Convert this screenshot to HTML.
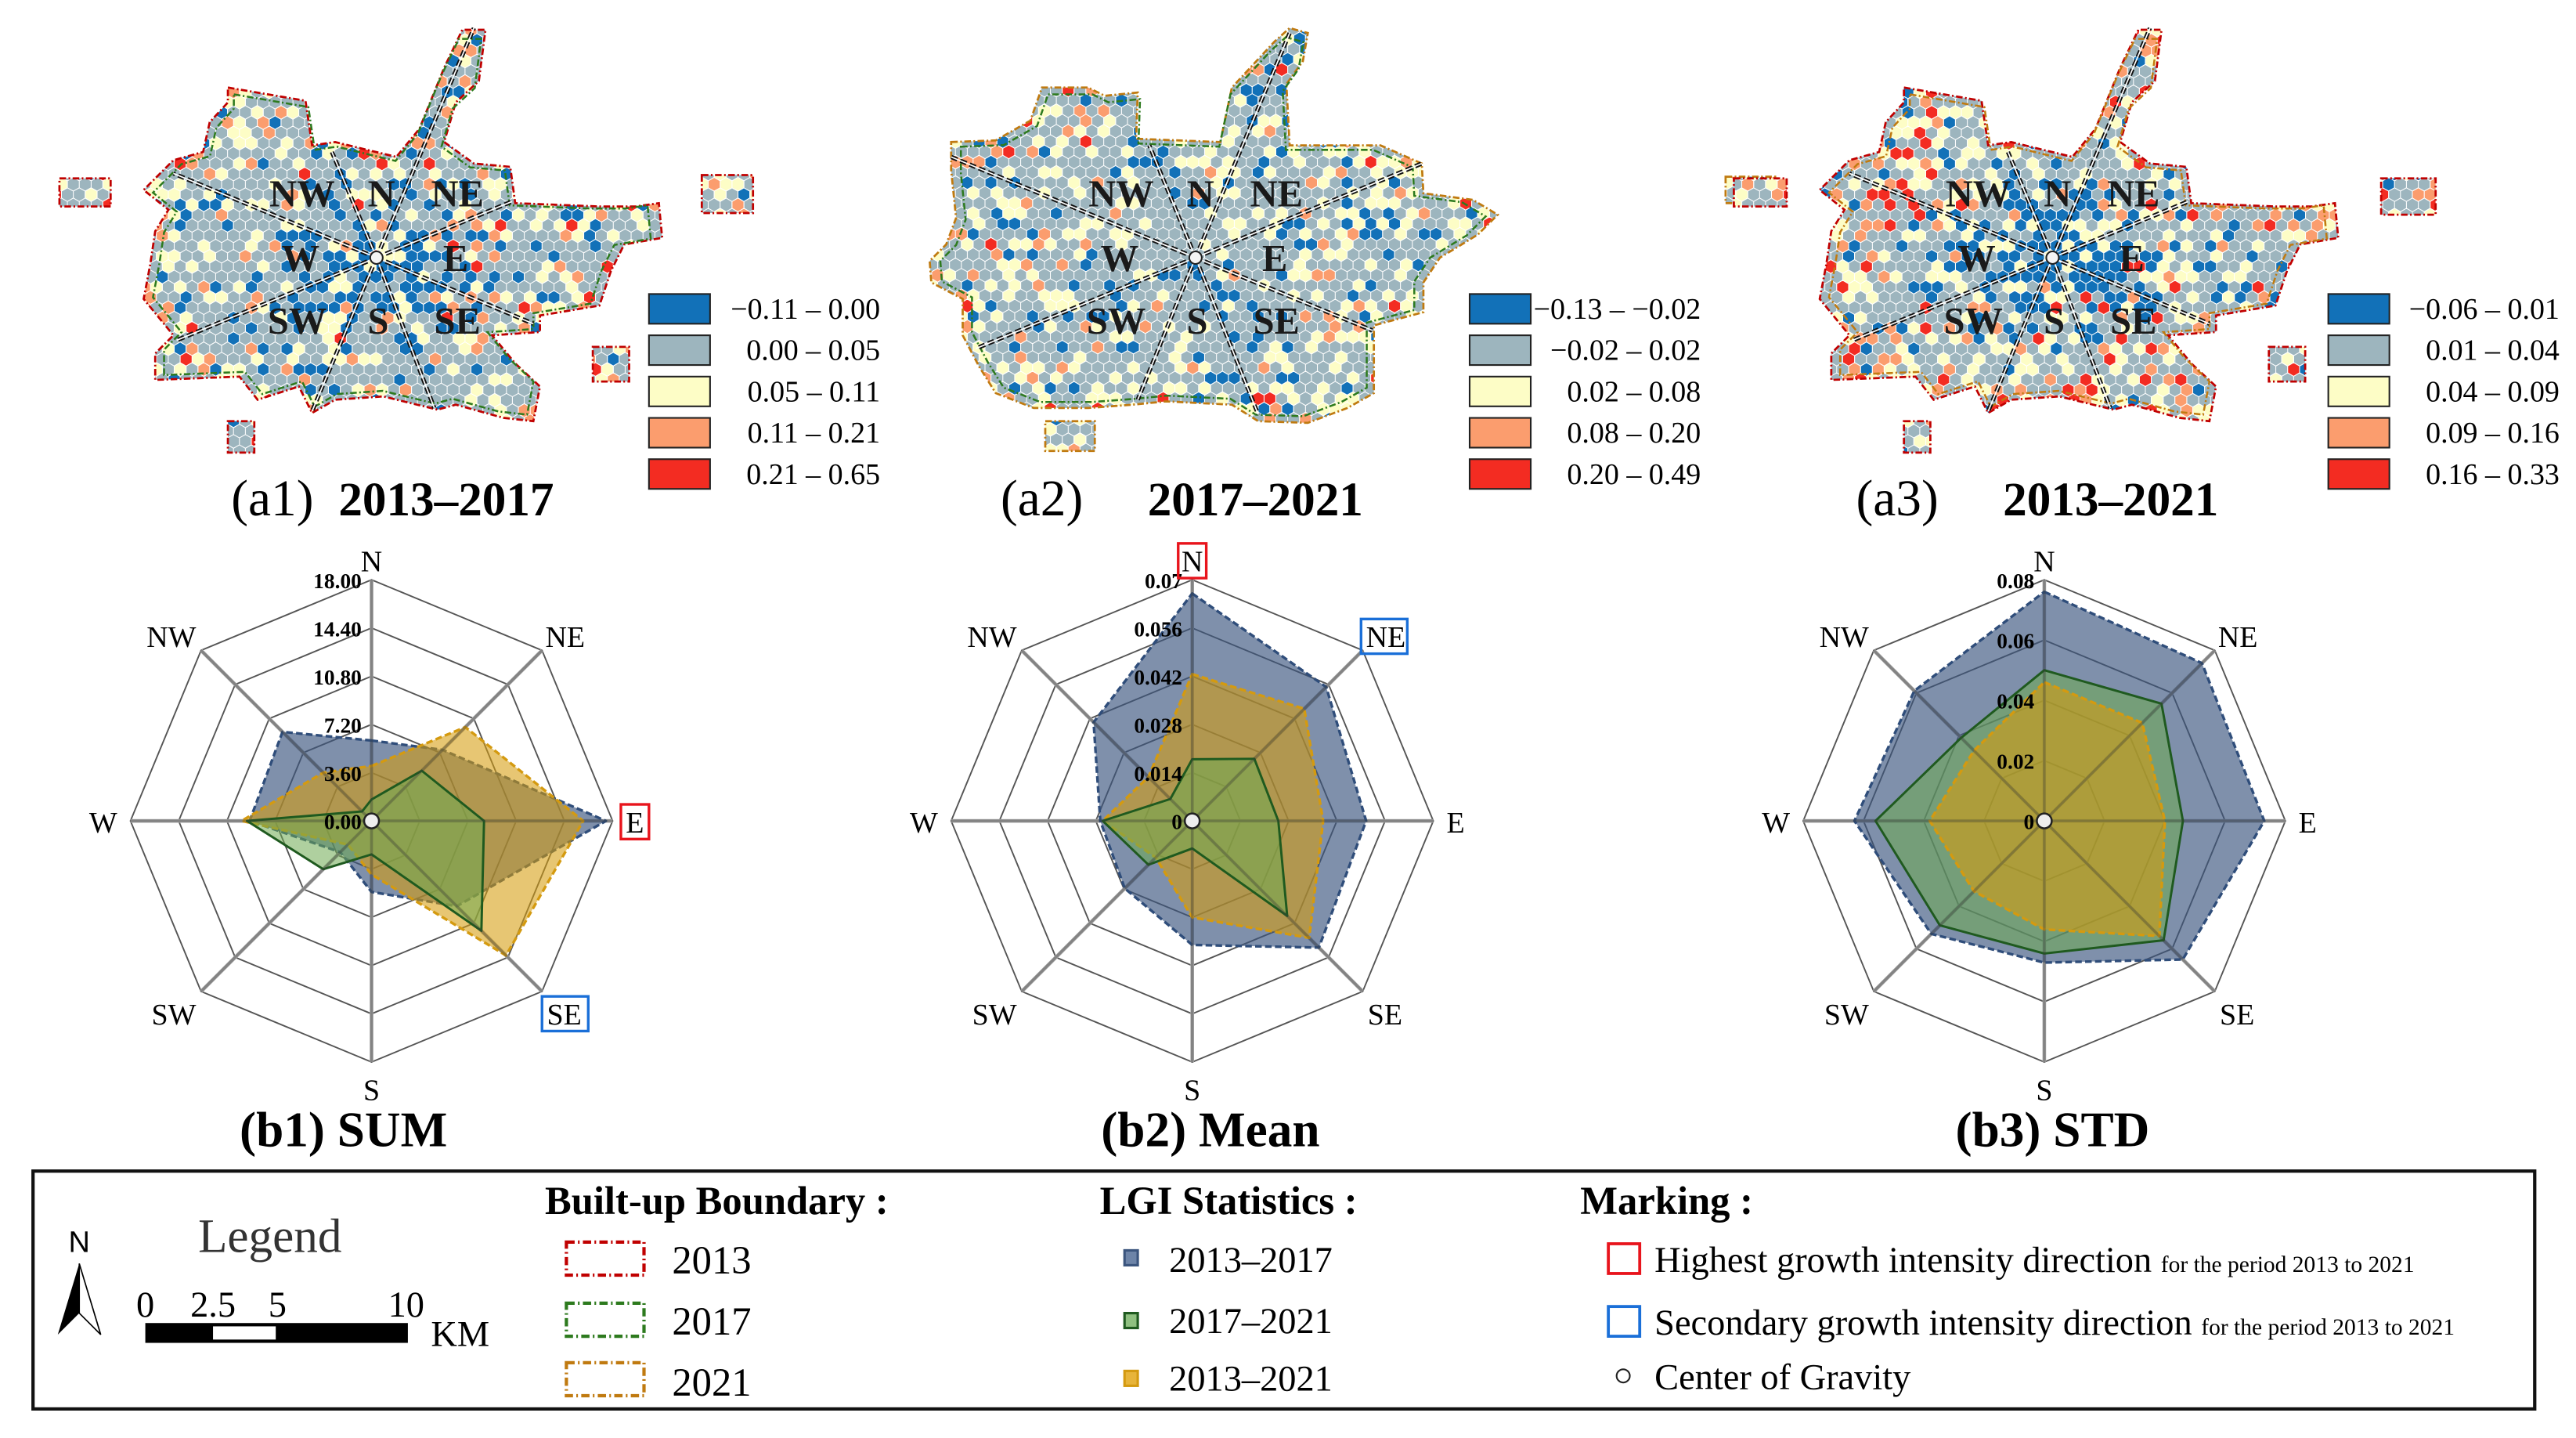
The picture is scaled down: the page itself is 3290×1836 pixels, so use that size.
<!DOCTYPE html>
<html><head><meta charset="utf-8">
<style>
html,body{margin:0;padding:0;background:#fff;}
svg{display:block;font-family:"Liberation Serif",serif;}
</style></head>
<body>
<svg id="fig" xmlns="http://www.w3.org/2000/svg" width="3290" height="1836" viewBox="0 0 1560 870.6" preserveAspectRatio="none">
<rect x="0" y="0" width="1560" height="871" fill="#fff"/>
<defs id="defs"></defs>
<g id="maps"></g>
<g id="radars"></g>

<!-- map titles -->
<text x="140" y="312" font-size="31">(a1)</text>
<text x="205" y="312" font-size="29" font-weight="bold">2013–2017</text>
<text x="606" y="312" font-size="31">(a2)</text>
<text x="695" y="312" font-size="29" font-weight="bold">2017–2021</text>
<text x="1124" y="312" font-size="31">(a3)</text>
<text x="1213" y="312" font-size="29" font-weight="bold">2013–2021</text>

<text x="208" y="694" font-size="30" font-weight="bold" text-anchor="middle">(b1) SUM</text>
<text x="733" y="694" font-size="30" font-weight="bold" text-anchor="middle">(b2) Mean</text>
<text x="1243" y="694" font-size="30" font-weight="bold" text-anchor="middle">(b3) STD</text>

<!-- bottom legend -->
<g>
<rect x="20" y="709" width="1515" height="144" fill="#fff" stroke="#111" stroke-width="2"/>
<text x="48" y="758" font-size="18" font-family="Liberation Sans, sans-serif" text-anchor="middle">N</text>
<polygon points="48,765 35,808 48,795" fill="#000"/>
<polygon points="48,765 61,808 48,795" fill="#fff" stroke="#000" stroke-width="0.8"/>
<text x="120" y="758" font-size="29" fill="#333">Legend</text>
<rect x="88" y="801" width="159" height="12" fill="#000"/>
<rect x="129" y="803" width="38" height="8" fill="#fff"/>
<text x="88" y="797" font-size="22" text-anchor="middle">0</text>
<text x="129" y="797" font-size="22" text-anchor="middle">2.5</text>
<text x="168" y="797" font-size="22" text-anchor="middle">5</text>
<text x="246" y="797" font-size="22" text-anchor="middle">10</text>
<text x="261" y="815" font-size="22">KM</text>

<text x="330" y="735" font-size="24" font-weight="bold">Built-up Boundary :</text>
<rect x="343" y="752" width="47" height="20" fill="none" stroke="#c00000" stroke-width="2" stroke-dasharray="5,2,1,2"/>
<text x="407" y="771" font-size="24">2013</text>
<rect x="343" y="789" width="47" height="20" fill="none" stroke="#2d7a1e" stroke-width="2" stroke-dasharray="5,2,1,2"/>
<text x="407" y="808" font-size="24">2017</text>
<rect x="343" y="825" width="47" height="20" fill="none" stroke="#c07a10" stroke-width="2" stroke-dasharray="5,2,1,2"/>
<text x="407" y="845" font-size="24">2021</text>

<text x="666" y="735" font-size="24" font-weight="bold">LGI Statistics :</text>
<rect x="681" y="757" width="8" height="9" fill="#6d84a8" stroke="#3b557e" stroke-width="1.5"/>
<text x="708" y="770" font-size="22">2013–2017</text>
<rect x="681" y="795" width="8" height="9" fill="#8fc080" stroke="#1f5a1f" stroke-width="1.5"/>
<text x="708" y="807" font-size="22">2017–2021</text>
<rect x="681" y="830" width="8" height="9" fill="#e7b43a" stroke="#d49a10" stroke-width="1.5"/>
<text x="708" y="842" font-size="22">2013–2021</text>

<text x="957" y="735" font-size="24" font-weight="bold">Marking :</text>
<rect x="974" y="753" width="19" height="18" fill="none" stroke="#e8141c" stroke-width="1.8"/>
<text x="1002" y="770" font-size="22">Highest growth intensity direction <tspan font-size="14">for the period 2013 to 2021</tspan></text>
<rect x="974" y="791" width="19" height="18" fill="none" stroke="#1a6fd8" stroke-width="1.8"/>
<text x="1002" y="808" font-size="22">Secondary growth intensity direction <tspan font-size="14">for the period 2013 to 2021</tspan></text>
<circle cx="983" cy="833" r="4" fill="#fff" stroke="#222" stroke-width="1"/>
<text x="1002" y="841" font-size="22">Center of Gravity</text>
</g>
</svg>

<script>
// ===== Radar chart data =====
const directions = ['N','NE','E','SE','S','SW','W','NW'];
const sumTicks = ['0.00','3.60','7.20','10.80','14.40','18.00'];
const sum2013to2017 = [6.0,7.5,17.5,9.0,5.3,3.3,9.1,9.4];
const sum2017to2021 = [1.6,5.3,8.4,11.6,2.5,5.1,9.3,1.0];
const sum2013to2021 = [4.1,9.9,15.8,14.2,4.0,2.5,9.7,5.1];
const meanTicks = ['0','0.014','0.028','0.042','0.056','0.07'];
const mean2013to2017 = [0.066,0.055,0.0505,0.052,0.036,0.0277,0.0267,0.0405];
const mean2017to2021 = [0.0179,0.0255,0.025,0.039,0.008,0.018,0.026,0.009];
const mean2013to2021 = [0.0426,0.046,0.038,0.048,0.028,0.015,0.026,0.018];
const stdTicks = ['0','0.02','0.04','0.06','0.08'];
const std2013to2017 = [0.076,0.074,0.073,0.065,0.047,0.053,0.063,0.061];
const std2017to2021 = [0.050,0.055,0.046,0.056,0.044,0.049,0.056,0.039];
const std2013to2021 = [0.046,0.046,0.040,0.054,0.036,0.033,0.038,0.033];

const NS='http://www.w3.org/2000/svg';
function mk(tag, attrs, parent){
  const e=document.createElementNS(NS,tag);
  for(const k in attrs) e.setAttribute(k,attrs[k]);
  parent.appendChild(e);
  return e;
}
const radarsG=document.getElementById('radars');
const mapsG=document.getElementById('maps');
const defs=document.getElementById('defs');

const styles={
  s1:{fill:'rgba(59,85,126,0.65)',stroke:'#2f4d7a',dash:'4,2',w:1.6},
  s2:{fill:'rgba(110,170,80,0.55)',stroke:'#1f5a1f',dash:'',w:1.4},
  s3:{fill:'rgba(213,157,13,0.58)',stroke:'#d49a10',dash:'4,2',w:1.6}
};

function radar(id,cx,cy,R,ticks,series,order,marks){
  const g=mk('g',{},radarsG);
  
  
  const n=ticks.length-1;
  const maxV=parseFloat(ticks[n]);
  const ang=i=>i*Math.PI/4;
  const pt=(i,r)=>[cx+r*Math.sin(ang(i)), cy-r*Math.cos(ang(i))];
  const scale=v=>v/maxV*R;
  for(let k=1;k<=n;k++){
    const r=R*k/n;
    const p=directions.map((d,i)=>pt(i,r).join(',')).join(' ');
    const ring=mk('polygon',{points:p,fill:'none',stroke:'#555',"stroke-width":0.9},g);
    
    
  }
  directions.forEach((d,i)=>{
    const [x,y]=pt(i,R);
    const sp=mk('line',{x1:cx,y1:cy,x2:x,y2:y,stroke:'#aaa',"stroke-width":2.2},g);
    
    
  });
  order.forEach(key=>{
    const vals=series[key];
    const st=styles[key];
    const p=vals.map((v,i)=>pt(i,scale(v)).join(',')).join(' ');
    const poly=mk('polygon',{points:p,fill:st.fill,stroke:st.stroke,"stroke-width":st.w,"stroke-dasharray":st.dash,"stroke-linejoin":"round"},g);
    
    
  });
  directions.forEach((d,i)=>{
    const [x,y]=pt(i,R);
    mk('line',{x1:cx,y1:cy,x2:x,y2:y,stroke:'rgba(60,60,60,0.35)',"stroke-width":1.6},g);
  });
  ticks.forEach((t,k)=>{
    const r=R*k/n;
    const tl=mk('text',{x:cx-6,y:cy-r+5,"font-size":13,"font-weight":"bold","text-anchor":"end"},g);
    tl.textContent=t;
    
    
  });
  directions.forEach((d,i)=>{
    const [x,y]=pt(i,R);
    let tx=x,ty=y,anc='middle';
    if(d==='N'){ty=y-5;}
    else if(d==='S'){ty=y+23;}
    else if(d==='E'){tx=x+8;ty=y+7;anc='start';}
    else if(d==='W'){tx=x-8;ty=y+7;anc='end';}
    else if(d==='NE'){tx=x+2;ty=y-2;anc='start';}
    else if(d==='NW'){tx=x-3;ty=y-2;anc='end';}
    else if(d==='SE'){tx=x+3;ty=y+20;anc='start';}
    else if(d==='SW'){tx=x-3;ty=y+20;anc='end';}
    const lab=mk('text',{x:tx,y:ty,"font-size":18,"text-anchor":anc},g);
    lab.textContent=d;
    
    
    if(marks[d]){
      const w=d.length>1?28:17;
      let bx=anc==='start'?tx-3:(anc==='end'?tx-w+3:tx-w/2);
      const b=mk('rect',{x:bx,y:ty-17,width:w,height:21,fill:'none',stroke:marks[d],"stroke-width":1.6},g);
      
      
    }
  });
  const c=mk('circle',{cx:cx,cy:cy,r:4.5,fill:'#eee',stroke:'#222',"stroke-width":1.2},g);
  
  
}
radar('radar-sum',225,497,146,sumTicks,{s1:sum2013to2017,s2:sum2017to2021,s3:sum2013to2021},['s1','s3','s2'],{E:'#e8141c',SE:'#1a6fd8'});
radar('radar-mean',722,497,146,meanTicks,{s1:mean2013to2017,s2:mean2017to2021,s3:mean2013to2021},['s1','s3','s2'],{N:'#e8141c',NE:'#1a6fd8'});
radar('radar-std',1238,497,146,stdTicks,{s1:std2013to2017,s2:std2017to2021,s3:std2013to2021},['s1','s2','s3'],{});

// ===== Maps (pattern illustration) =====
const shapeA1=[[138,53],[185,61],[189,88],[203,86],[240,95],[254,78],[269,41],[280,18],[294,18],[290,49],[276,62],[269,86],[287,99],[309,101],[312,123],[363,125],[385,125],[399,123],[401,144],[378,148],[370,164],[363,185],[327,191],[327,201],[298,203],[312,220],[327,234],[323,255],[305,253],[276,245],[265,248],[232,240],[203,242],[189,250],[181,234],[156,242],[145,228],[94,230],[94,214],[105,203],[87,181],[91,160],[94,140],[102,127],[87,115],[105,97],[123,92],[127,74],[138,62]];
const islandsA1=[[[36,108],[67,108],[67,125],[36,125]],[[425,106],[456,106],[456,129],[425,129]],[[138,255],[154,255],[154,274],[138,274]],[[359,210],[381,210],[381,231],[359,231]]];
const raysA1=[[105,105],[201,92],[287,17],[310,122],[323,196],[263,247],[189,249],[107,206]];
const shapeA2=[[576,86],[603,85],[624,73],[631,53],[659,53],[669,58],[689,56],[688,84],[739,86],[746,53],[772,25],[781,17],[792,20],[789,37],[779,51],[781,88],[836,88],[861,99],[862,117],[892,121],[907,130],[895,142],[872,156],[862,171],[862,189],[832,197],[832,238],[816,247],[792,256],[762,255],[746,245],[706,243],[686,245],[659,247],[626,247],[603,238],[593,222],[583,203],[583,181],[564,171],[563,158],[573,148],[579,132],[576,103]];
const islandsA2=[[[1045,107],[1075,107],[1075,123],[1045,123]],[[633,255],[663,255],[663,273],[633,273]]];
const raysA2=[[576,95],[696,88],[781,20],[861,99],[831,200],[762,251],[689,242],[591,211]];

function shift(pts,dx){return pts.map(p=>[p[0]+dx,p[1]]);}
const maps=[
 {id:'a1',cx:228,cy:156,shape:shapeA1,islands:islandsA1,rays:raysA1,type:1,legX:393,
  labels:['−0.11 – 0.00','0.00 – 0.05','0.05 – 0.11','0.11 – 0.21','0.21 – 0.65'],bcol:['#c00000','#2d7a1e']},
 {id:'a2',cx:724,cy:156,shape:shapeA2,islands:islandsA2,rays:raysA2,type:2,legX:890,
  labels:['−0.13 – −0.02','−0.02 – 0.02','0.02 – 0.08','0.08 – 0.20','0.20 – 0.49'],bcol:['#c07a10','#2d7a1e']},
 {id:'a3',cx:1243,cy:156,shape:shift(shapeA1,1015),islands:[[[1050,108],[1082,108],[1082,125],[1050,125]],[[1442,108],[1475,108],[1475,130],[1442,130]],[[1153,255],[1169,255],[1169,274],[1153,274]],[[1374,210],[1396,210],[1396,231],[1374,231]]],rays:shift(raysA1,1015),type:3,legX:1410,
  labels:['−0.06 – 0.01','0.01 – 0.04','0.04 – 0.09','0.09 – 0.16','0.16 – 0.33'],bcol:['#c00000','#c07a10']}
];
const cols=['#1271b8','#9db5be','#fdfdc6','#fb9d6e','#f32c22'];
function hash(a,b,c){let h=(a*374761393+b*668265263+c*2147483647)|0;h=(h^(h>>>13))*1274126177|0;h=h^(h>>>16);return ((h>>>0)%10000)/10000;}

maps.forEach((m,mi)=>{
  const g=mk('g',{},mapsG);
  
  
  const cp=mk('clipPath',{id:'clip'+m.id},defs);
  const all=[m.shape].concat(m.islands);
  all.forEach(p=>mk('polygon',{points:p.map(q=>q.join(',')).join(' ')},cp));
  let xs=all.flat().map(p=>p[0]),ys=all.flat().map(p=>p[1]);
  const x0=Math.min(...xs)-6,x1=Math.max(...xs)+6,y0=Math.min(...ys)-6,y1=Math.max(...ys)+6;
  const s=4.15,w=Math.sqrt(3)*s,rh=1.5*s;
  const paths=['','','','',''];
  let row=0;
  for(let y=y0;y<y1;y+=rh,row++){
    let col=0;
    for(let x=x0+(row%2?w/2:0);x<x1;x+=w,col++){
      const d=Math.min(1,Math.hypot(x-m.cx,(y-m.cy)*1.3)/150);
      const r=hash(row,col,mi+1);
      let pb,py,po,pr;
      if(m.type===2){pb=0.1;py=0.13+0.14*d;po=0.01+0.08*d;pr=0.005+0.015*d;}
      else if(m.type===1){pb=0.1+0.7*Math.max(0,1-d*1.8);py=0.1+0.1*d;po=0.02+0.1*d;pr=0.005+0.03*d;}
      else {pb=0.08+0.7*Math.max(0,1-d*1.8);py=0.12+0.08*d;po=0.03+0.12*d;pr=0.01+0.08*d;}
      let ci;
      if(r<pb)ci=0;else if(r<pb+py)ci=2;else if(r<pb+py+po)ci=3;else if(r<pb+py+po+pr)ci=4;else ci=1;
      let hp='M'+x.toFixed(1)+','+(y-s).toFixed(1);
      for(let k=1;k<6;k++){const a=Math.PI/3*k;hp+='L'+(x+s*Math.sin(a)).toFixed(1)+','+(y-s*Math.cos(a)).toFixed(1);}
      paths[ci]+=hp+'Z';
    }
  }
  const hg=mk('g',{"clip-path":'url(#clip'+m.id+')'},g);
  
  
  paths.forEach((p,i)=>{mk('path',{d:p,fill:cols[i],stroke:'#fff',"stroke-width":0.5},hg);});
  all.forEach(p=>{
    const b=mk('polygon',{points:p.map(q=>q.join(',')).join(' '),fill:'none',stroke:m.bcol[0],"stroke-width":1.3,"stroke-dasharray":'4,1.5,1,1.5'},g);
    
    
  });
  const inset=m.shape.map(q=>[m.cx+(q[0]-m.cx)*0.96,m.cy+(q[1]-m.cy)*0.96]);
  const b2=mk('polygon',{points:inset.map(q=>q.join(',')).join(' '),fill:'none',stroke:m.bcol[1],"stroke-width":1.2,"stroke-dasharray":'4,1.5,1,1.5'},g);
  
  
  m.rays.forEach(r=>{
    mk('line',{x1:m.cx,y1:m.cy,x2:r[0],y2:r[1],stroke:'#111',"stroke-width":2.6,"stroke-dasharray":'4,2'},g);
    const l=mk('line',{x1:m.cx,y1:m.cy,x2:r[0],y2:r[1],stroke:'#fff',"stroke-width":0.8},g);
    
    
  });
  const offs=[['NW',-45,-39],['N',3,-39],['NE',49,-39],['W',-46,0],['E',48,0],['SW',-48,38],['S',1,38],['SE',49,38]];
  offs.forEach(o=>{
    const t=mk('text',{x:m.cx+o[1],y:m.cy+o[2]+8,"font-size":23,"font-weight":"bold","text-anchor":"middle",fill:'#1a1a1a'},g);
    t.textContent=o[0];
    
    
  });
  const c=mk('circle',{cx:m.cx,cy:m.cy,r:3.8,fill:'#f4f4f4',stroke:'#222',"stroke-width":1},g);
  
  
  m.labels.forEach((lb,i)=>{
    const y=178+i*25;
    const r=mk('rect',{x:m.legX,y:y,width:37,height:18,fill:cols[i],stroke:'#222',"stroke-width":1},g);
    
    
    const t=mk('text',{x:m.legX+140,y:y+15,"font-size":18,"text-anchor":"end"},g);
    t.textContent=lb;
    
    
  });
});
</script>
</body></html>
